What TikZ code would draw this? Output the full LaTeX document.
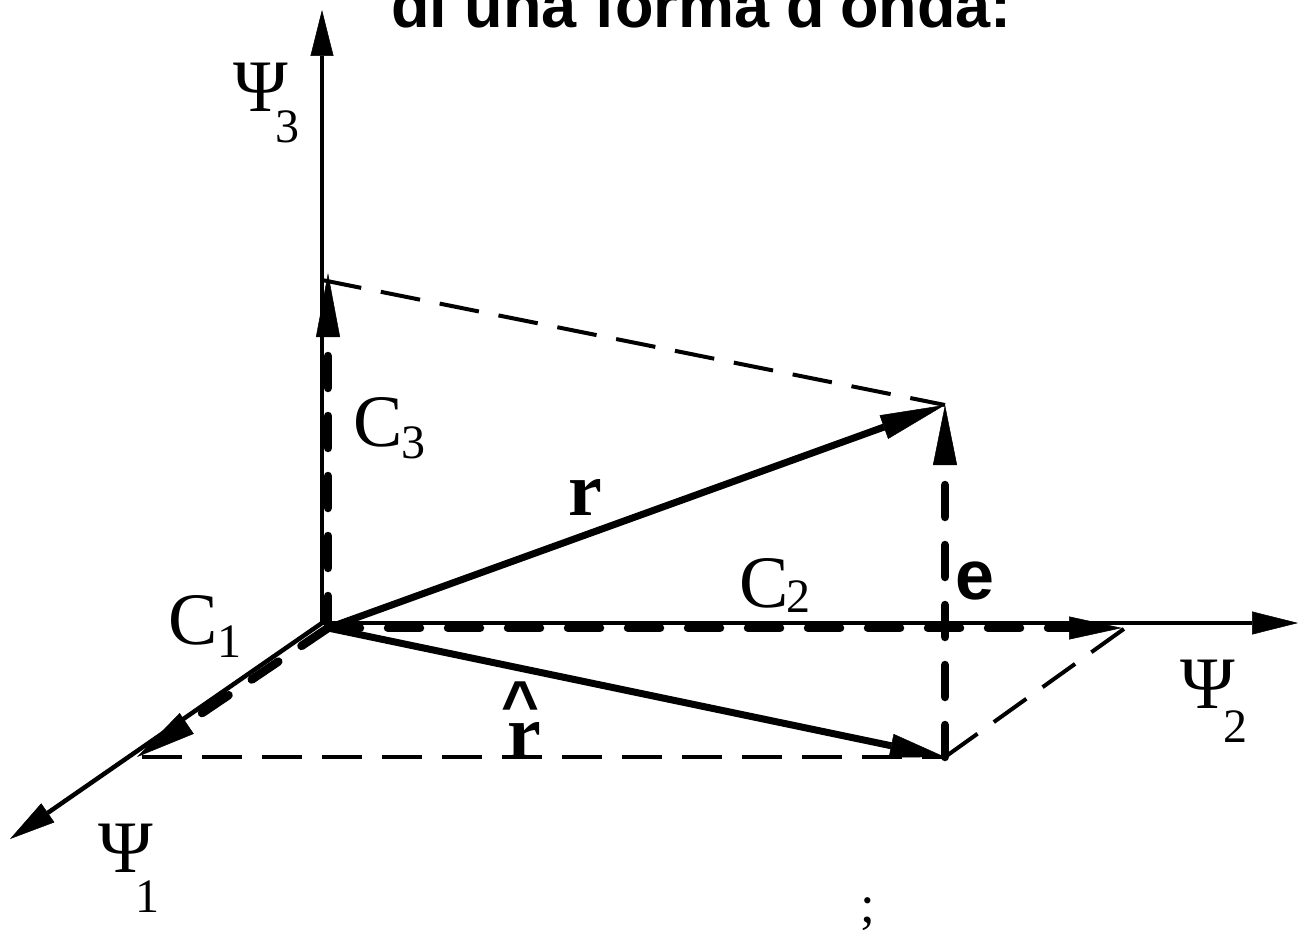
\documentclass[tikz,border=0pt]{standalone}
\usepackage{fontspec}
\setmainfont{Liberation Serif}
\newfontfamily\lsans{Liberation Sans}
\usetikzlibrary{arrows.meta}
\begin{document}
\begin{tikzpicture}[x=1pt,y=-1pt,
  axis/.style={line width=4.5pt,-{Triangle[length=46pt,width=23pt,line width=0.5pt]}},
  thindash/.style={line width=4pt,dash pattern=on 40pt off 20pt},
  thickdash/.style={line width=8.5pt,dash pattern=on 32pt off 28pt,line cap=round},
  vec/.style={line width=7pt},
  lbl/.style={inner sep=0pt,anchor=base,font=\fontsize{74}{80}\selectfont},
  sublbl/.style={inner sep=0pt,anchor=base,font=\fontsize{48}{52}\selectfont},
  boldlbl/.style={inner sep=0pt,anchor=base,font=\fontsize{76}{80}\selectfont\bfseries},
  sanslbl/.style={inner sep=0pt,anchor=base,font=\lsans\bfseries\fontsize{70}{76}\selectfont}]
\useasboundingbox (0,0) rectangle (1299,947);
% points
\coordinate (Oa) at (322,623);
\coordinate (O) at (328,628);
\coordinate (X3) at (322,10);
\coordinate (X2) at (1298,623);
\coordinate (X1) at (10,839);
\coordinate (A) at (137,757);
\coordinate (As) at (142,757);
\coordinate (B) at (1122,628);
\coordinate (Bd) at (1128,626);
\coordinate (P) at (945,405);
\coordinate (Q) at (945,757);
\coordinate (T) at (328,273);
\coordinate (T3) at (322,280);
% axes
\draw[axis] (Oa) -- (X3);
\draw[axis] (Oa) -- (X2);
\draw[axis] (Oa) -- (X1);
% thin dashed construction lines
\draw[thindash] (T3) -- (P);
\draw[thindash] (As) -- (Q);
\draw[thindash] (Q) -- (Bd);
% components
\draw[thickdash,-{Triangle[length=64pt,width=24pt,line width=0.5pt]}] (O) -- (T);
\draw[thickdash,-{Triangle[length=53pt,width=23pt,line width=0.5pt]}] (O) -- (B);
\draw[thickdash,-{Triangle[length=60pt,width=25pt,line width=0.5pt]}] (O) -- (A);
\draw[thickdash,-{Triangle[length=60pt,width=24pt,line width=0.5pt]}] (Q) -- (P);
% vectors
\draw[vec,-{Triangle[length=65pt,width=25pt,line width=0.5pt]}] (O) -- (P);
\draw[vec,-{Triangle[length=55pt,width=24pt,line width=0.5pt]}] (O) -- (Q);
% labels
\node[anchor=base west,inner sep=0pt,font=\lsans\bfseries\fontsize{63}{70}\selectfont] (title) at (391,28) {di una forma d'onda:};
\node[lbl] (psi3) at (261,112) {Ψ};
\node[sublbl] (psi3s) at (287,143) {3};
\node[lbl] (psi2) at (1208,708) {Ψ};
\node[sublbl] (psi2s) at (1235,742) {2};
\node[lbl] (psi1) at (126,872) {Ψ};
\node[sublbl] (psi1s) at (147,912) {1};
\node[lbl] (c3) at (378,446) {C};
\node[sublbl] (c3s) at (413,458) {3};
\node[lbl] (c1) at (193,644) {C};
\node[sublbl] (c1s) at (229,657) {1};
\node[lbl] (c2) at (764,607) {C};
\node[sublbl] (c2s) at (798,612) {2};
\node[boldlbl] (rlab) at (585,515) {r};
\node[sanslbl] (elab) at (975,599) {e};
\node[boldlbl] (rhat) at (524,758) {r};
\node[inner sep=0pt,anchor=base,font=\lsans\bfseries\fontsize{65}{70}\selectfont] (hat) at (520,726) {\textasciicircum};
\node[inner sep=0pt,anchor=base,font=\fontsize{53}{58}\selectfont] (semi) at (868,922) {;};
\end{tikzpicture}
\end{document}
